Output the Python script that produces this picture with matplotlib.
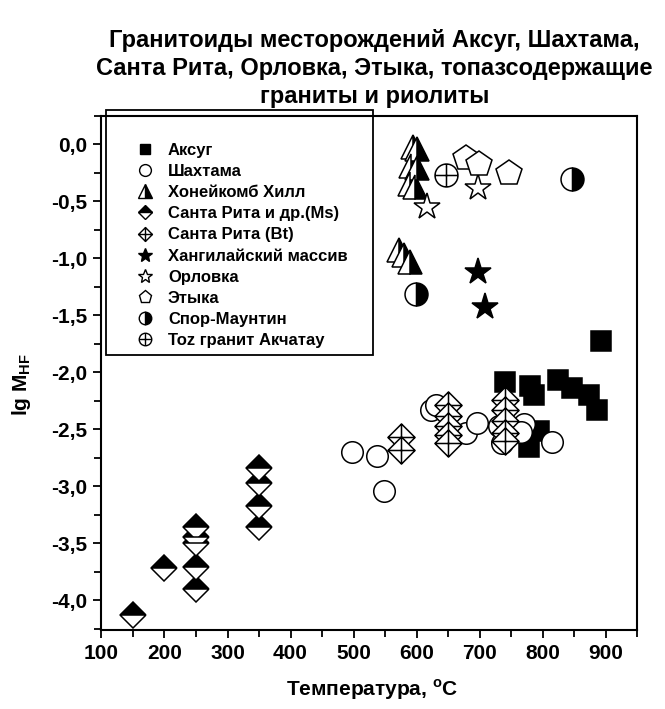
import numpy as np
import matplotlib
matplotlib.use("Agg")
import matplotlib.pyplot as plt
from matplotlib.path import Path
from matplotlib.lines import Line2D
from matplotlib.patches import Rectangle
from matplotlib.ticker import MultipleLocator, FuncFormatter

plt.rcParams['font.family'] = ['Liberation Sans', 'DejaVu Sans']
plt.rcParams['font.weight'] = 'bold'
plt.rcParams['mathtext.fontset'] = 'custom'
plt.rcParams['mathtext.rm'] = 'Liberation Sans:bold'
plt.rcParams['mathtext.bf'] = 'Liberation Sans:bold'

# --- данные (температура, lg M_HF) ---
aksug_x = [740, 780, 787, 824, 846, 873, 886, 893, 794, 778]
aksug_y = [-2.08, -2.12, -2.20, -2.07, -2.14, -2.20, -2.33, -1.72, -2.51, -2.65]

shakht_x = [498, 538, 549, 623, 631, 678, 696, 731, 770, 765, 815, 735]
shakht_y = [-2.70, -2.73, -3.04, -2.33, -2.29, -2.53, -2.44, -2.47, -2.45, -2.52, -2.61, -2.62]

honey_x = [595, 600, 592, 600, 590, 598, 572, 580, 590]
honey_y = [-0.02, -0.04, -0.19, -0.21, -0.35, -0.37, -0.93, -0.97, -1.03]

srms_x = [150, 200, 250, 250, 250, 250, 250, 350, 350, 350, 350]
srms_y = [-4.13, -3.72, -3.36, -3.44, -3.50, -3.71, -3.90, -2.84, -2.97, -3.17, -3.36]

srbt_x = [575, 575, 650, 650, 650, 650, 650, 740, 740, 740, 740, 740]
srbt_y = [-2.57, -2.68, -2.29, -2.38, -2.47, -2.55, -2.62, -2.24, -2.33, -2.43, -2.53, -2.60]

khang_x = [697, 708]
khang_y = [-1.12, -1.43]

orlov_x = [617, 697]
orlov_y = [-0.55, -0.38]

etyka_x = [678, 699, 746]
etyka_y = [-0.12, -0.17, -0.25]

spor_x = [599, 846]
spor_y = [-1.31, -0.30]

toz_x = [646]
toz_y = [-0.27]

labels = ['Аксуг', 'Шахтама', 'Хонейкомб Хилл', 'Санта Рита и др.(Ms)',
          'Санта Рита (Bt)', 'Хангилайский массив', 'Орловка', 'Этыка',
          'Спор-Маунтин', 'Toz гранит Акчатау']

# маркеры с крестом внутри
M, L, C = Path.MOVETO, Path.LINETO, Path.CLOSEPOLY
vline = Path([(0, 1), (0, -1)], [M, L])
hline = Path([(-1, 0), (1, 0)], [M, L])
diamond = Path([(0, 1), (1, 0), (0, -1), (-1, 0), (0, 1)], [M, L, L, L, C])
diamond_cross = Path.make_compound_path(diamond, vline, hline)
circle_cross = Path.make_compound_path(Path.unit_circle(), vline, hline)

styles = [
    dict(marker='s', mfc='black', ms=14),
    dict(marker='o', mfc='white', ms=15.5),
    dict(marker='^', mfc='black', mfcalt='white', fillstyle='right', ms=17.5),
    dict(marker='D', mfc='black', mfcalt='white', fillstyle='top', ms=13.5),
    dict(marker=diamond_cross, mfc='white', ms=19.5),
    dict(marker='*', mfc='black', ms=19.5),
    dict(marker='*', mfc='white', ms=19.5),
    dict(marker='p', mfc='white', ms=19),
    dict(marker='o', mfc='black', mfcalt='white', fillstyle='right', ms=16.5),
    dict(marker=circle_cross, mfc='white', ms=16.5),
]
legend_ms = [7.5, 8.5, 9.5, 7, 10, 10, 10, 9.5, 9, 9]

series = [(aksug_x, aksug_y), (shakht_x, shakht_y), (honey_x, honey_y),
          (srms_x, srms_y), (srbt_x, srbt_y), (khang_x, khang_y),
          (orlov_x, orlov_y), (etyka_x, etyka_y), (spor_x, spor_y), (toz_x, toz_y)]

fig = plt.figure(figsize=(6.65, 7.09), dpi=100)
ax = fig.add_axes([0.1526, 0.1114, 0.8054, 0.725])

for (xs, ys), st in zip(series, styles):
    ax.plot(xs, ys, ls='none', mec='black', mew=1.1, **st)

ax.set_xlim(100, 950)
ax.set_ylim(-4.26, 0.25)
ax.xaxis.set_major_locator(MultipleLocator(100))
ax.xaxis.set_minor_locator(MultipleLocator(50))
ax.yaxis.set_major_locator(MultipleLocator(0.5))
ax.yaxis.set_minor_locator(MultipleLocator(0.25))
ax.yaxis.set_major_formatter(FuncFormatter(lambda v, p: f"{v:.1f}".replace('.', ',')))
ax.tick_params(which='both', direction='out', top=False, right=False, width=1.3,
               labelsize=15, pad=4)
ax.tick_params(which='major', length=6)
ax.tick_params(which='minor', length=5)
for s in ax.spines.values():
    s.set_linewidth(1.5)

# легенда в рамке
ax.add_patch(Rectangle((0.008, 0.535), 0.499, 0.477, transform=ax.transAxes,
                       fill=False, lw=1.3, ec='black', clip_on=False, zorder=5))
handles = [Line2D([], [], ls='none', mec='black', mew=1.0,
                  **{**st, 'ms': m}) for st, m in zip(styles, legend_ms)]
ax.legend(handles, labels, loc='upper left', bbox_to_anchor=(0.072, 0.948),
          frameon=False, borderpad=0, borderaxespad=0, handlelength=0.6,
          handletextpad=1.08, labelspacing=0.37, fontsize=12)

title_lines = ['Гранитоиды месторождений Аксуг, Шахтама,',
               'Санта Рита, Орловка, Этыка, топазсодержащие',
               'граниты и риолиты']
for i, t in enumerate(title_lines):
    fig.text(0.563, 1 - (40 + 28 * i) / 709, t, ha='center', va='center', fontsize=17)

fig.text(0.56, 1 - 690 / 709, 'Температура, $^{\\mathrm{o}}$C', ha='center', va='center',
         fontsize=15)
fig.text(22 / 665, 1 - 385 / 709, 'lg M$_{\\mathrm{HF}}$', ha='center', va='center',
         rotation=90, fontsize=15)

fig.savefig('out.png', dpi=100)
